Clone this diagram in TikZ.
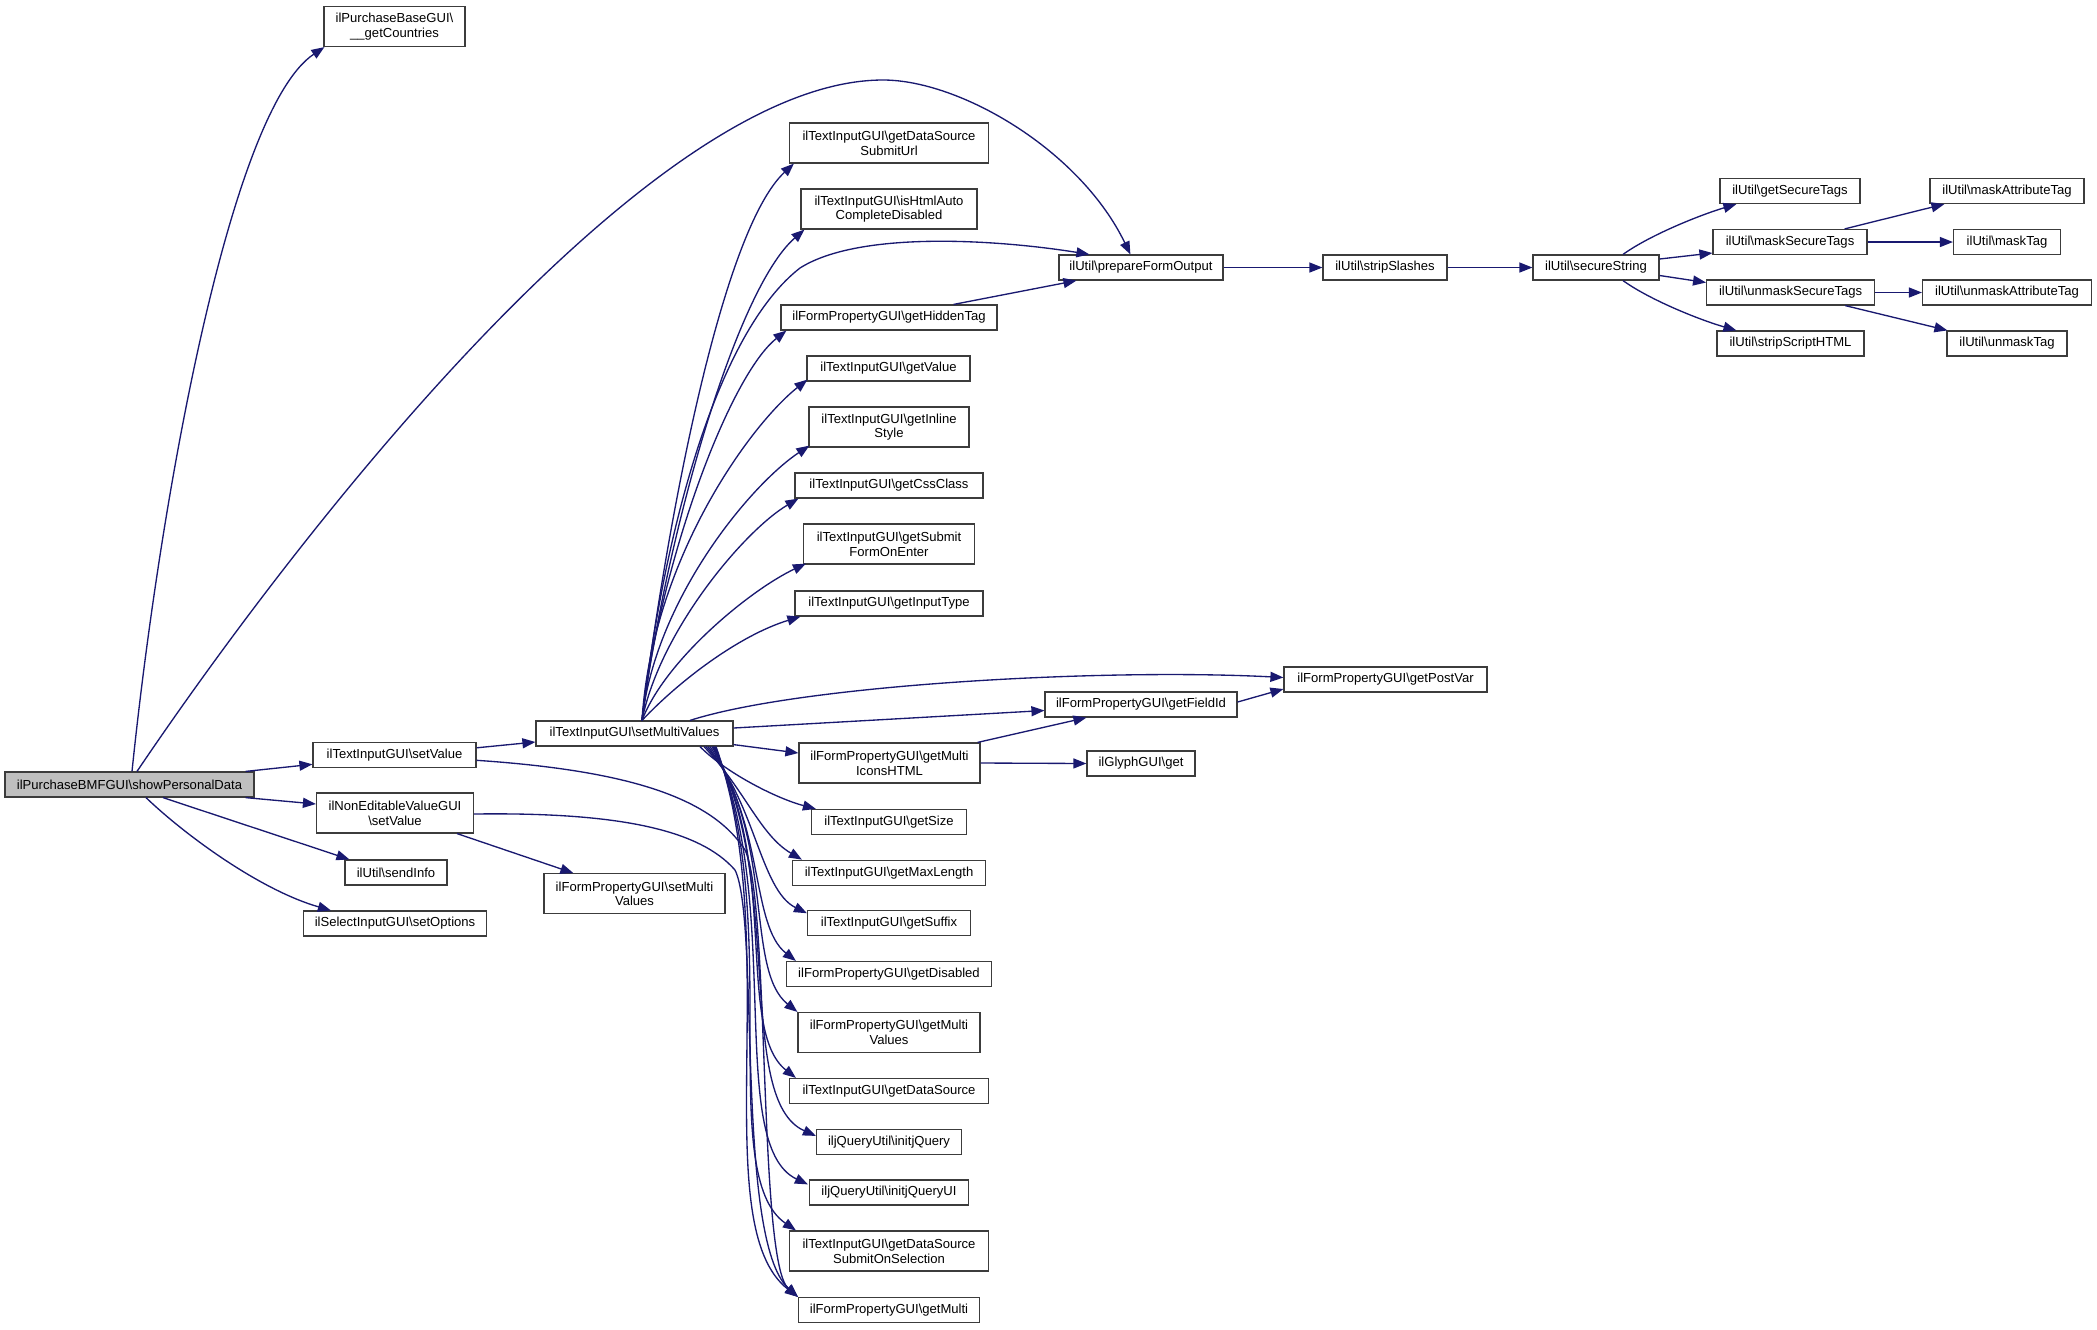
\documentclass[tikz,border=0pt]{standalone}
\usepackage{fontspec}
\setmainfont{Liberation Sans}
\usetikzlibrary{arrows.meta,calc}
\definecolor{edgec}{RGB}{25,25,112}
\definecolor{rootfill}{RGB}{191,191,191}
\definecolor{boxline}{RGB}{60,60,60}
\newcommand{\bs}{\textbackslash}
\begin{document}
\begin{tikzpicture}[x=0.75pt,y=-0.75pt,
  box/.style={draw=boxline, line width=0.9pt, fill=white, inner sep=0pt,
    minimum height=18.75pt, font=\fontsize{9.8pt}{11pt}\selectfont, align=center},
  dbl/.style={minimum height=30pt},
  bw/.style={minimum width=#1*0.75pt},
  edge/.style={draw=edgec, line width=1pt, -{Triangle[length=9.75pt,width=7.5pt]}}]
\fill[white] (0,0) rectangle (2097,1329);
\useasboundingbox (0,0) rectangle (2097,1329);

% nodes
\node[box, bw=249, fill=rootfill] (root) at (129.5,784.5) {ilPurchaseBMFGUI\bs showPersonalData};
\node[box, dbl, bw=141] (gc) at (394.5,26.5) {ilPurchaseBaseGUI\bs\\\_\_getCountries};
\node[box, bw=163] (tsv) at (394.5,755.3) {ilTextInputGUI\bs setValue};
\node[box, dbl, bw=157] (ne) at (395,813) {ilNonEditableValueGUI\\\bs setValue};
\node[box, bw=102] (si) at (396,872.5) {ilUtil\bs sendInfo};
\node[box, bw=183] (so) at (395,923.5) {ilSelectInputGUI\bs setOptions};
\node[box, bw=197] (smv) at (634.5,733.5) {ilTextInputGUI\bs setMultiValues};
\node[box, dbl, bw=181] (fpsmv) at (634.5,893.7) {ilFormPropertyGUI\bs setMulti\\Values};

\node[box, dbl, bw=199] (sdsu) at (889,143) {ilTextInputGUI\bs getDataSource\\SubmitUrl};
\node[box, dbl, bw=176] (hac) at (889,209) {ilTextInputGUI\bs isHtmlAuto\\CompleteDisabled};
\node[box, bw=216] (ght) at (889,317.5) {ilFormPropertyGUI\bs getHiddenTag};
\node[box, bw=163] (gv) at (888.5,368.5) {ilTextInputGUI\bs getValue};
\node[box, dbl, bw=160] (gis) at (889,427) {ilTextInputGUI\bs getInline\\Style};
\node[box, bw=188] (gcc) at (889,485.5) {ilTextInputGUI\bs getCssClass};
\node[box, dbl, bw=171] (gsub) at (889,544) {ilTextInputGUI\bs getSubmit\\FormOnEnter};
\node[box, bw=188] (git) at (889,603.5) {ilTextInputGUI\bs getInputType};
\node[box, dbl, bw=181] (gmih) at (889.5,763) {ilFormPropertyGUI\bs getMulti\\IconsHTML};
\node[box, bw=155] (gsz) at (889,822) {ilTextInputGUI\bs getSize};
\node[box, bw=193] (gml) at (889,872.7) {ilTextInputGUI\bs getMaxLength};
\node[box, bw=163] (gsf) at (889,923.3) {ilTextInputGUI\bs getSuffix};
\node[box, bw=205] (gdis) at (889,974) {ilFormPropertyGUI\bs getDisabled};
\node[box, dbl, bw=182] (gmv) at (889,1032.5) {ilFormPropertyGUI\bs getMulti\\Values};
\node[box, bw=199] (gds) at (889,1091) {ilTextInputGUI\bs getDataSource};
\node[box, bw=145] (ijq) at (889,1142) {iljQueryUtil\bs initjQuery};
\node[box, bw=159] (ijqui) at (889,1192.5) {iljQueryUtil\bs initjQueryUI};
\node[box, dbl, bw=199] (sos) at (889,1251) {ilTextInputGUI\bs getDataSource\\SubmitOnSelection};
\node[box, bw=181] (gm) at (889,1310) {ilFormPropertyGUI\bs getMulti};

\node[box, bw=164] (pfo) at (1141,267.5) {ilUtil\bs prepareFormOutput};
\node[box, bw=192] (gfid) at (1141,704.5) {ilFormPropertyGUI\bs getFieldId};
\node[box, bw=108] (glyph) at (1141,763.5) {ilGlyphGUI\bs get};
\node[box, bw=124] (ss) at (1385,267.5) {ilUtil\bs stripSlashes};
\node[box, bw=203] (gpv) at (1385.5,679.5) {ilFormPropertyGUI\bs getPostVar};
\node[box, bw=126] (sec) at (1596,267.5) {ilUtil\bs secureString};
\node[box, bw=140] (gst) at (1790,191) {ilUtil\bs getSecureTags};
\node[box, bw=154] (mst) at (1790,242) {ilUtil\bs maskSecureTags};
\node[box, bw=168] (umst) at (1790.6,292.5) {ilUtil\bs unmaskSecureTags};
\node[box, bw=147] (ssh) at (1790.5,343.5) {ilUtil\bs stripScriptHTML};
\node[box, bw=154] (mat) at (2007,191) {ilUtil\bs maskAttributeTag};
\node[box, bw=107] (mt) at (2007,242) {ilUtil\bs maskTag};
\node[box, bw=169] (umat) at (2007,292.5) {ilUtil\bs unmaskAttributeTag};
\node[box, bw=120] (umt) at (2007,343.5) {ilUtil\bs unmaskTag};

% edges from root
\draw[edge] ($(root.north)+(2.5,0)$) .. controls (160,500) and (230,110) .. ($(gc.south west)+(1,0)$);
\draw[edge] ($(root.north)+(7.5,0)$) .. controls (300,530) and (650,80) .. (883,80)
  .. controls (960,80) and (1080,150) .. ($(pfo.north west)+(72,0)$);
\draw[edge] ($(root.north east)+(-9,0)$) -- ($(tsv.west)+(0,9)$);
\draw[edge] ($(root.south east)+(-9,0)$) -- ($(ne.west)+(0,-9)$);
\draw[edge] ($(root.south)+(33.5,0)$) -- ($(si.north west)+(5,0)$);
\draw[edge] ($(root.south)+(16.5,0)$) .. controls (185,835) and (260,890) .. ($(so.north west)+(28,0)$);

% column 1 edges
\draw[edge] ($(tsv.east)+(0,-7.5)$) -- ($(smv.west)+(0,8.5)$);
\draw[edge] ($(tsv.east)+(0,5)$) .. controls (620,770) and (710,795) .. (745,850)
  .. controls (770,900) and (758,1262) .. (gm.north west);
\draw[edge] ($(ne.east)+(0,1)$) .. controls (620,812) and (700,830) .. (735,870)
  .. controls (760,920) and (735,1240) .. (gm.north west);
\draw[edge] ($(ne.south east)+(-17,0)$) -- ($(fpsmv.north west)+(30,0)$);

% setMultiValues upward edges
\draw[edge] ($(smv.north)+(7.5,0)$) .. controls (667,520) and (722,230) .. ($(sdsu.south west)+(5,0)$);
\draw[edge] ($(smv.north)+(7.5,0)$) .. controls (665,540) and (735,290) .. ($(hac.south west)+(4,0)$);
\draw[edge] ($(smv.north)+(7.5,0)$) .. controls (665,520) and (720,330) .. (800,268)
  .. controls (860,230) and (1000,240) .. ($(pfo.north west)+(31,0)$);
\draw[edge] ($(smv.north)+(7.5,0)$) .. controls (660,560) and (730,375) .. ($(ght.south west)+(6,0)$);
\draw[edge] ($(smv.north)+(7.5,0)$) .. controls (652,560) and (750,425) .. ($(gv.south west)+(1,-2)$);
\draw[edge] ($(smv.north)+(7.5,0)$) .. controls (655,600) and (750,485) .. ($(gis.south west)+(1,-2)$);
\draw[edge] ($(smv.north)+(7.5,0)$) .. controls (660,630) and (745,530) .. ($(gcc.south west)+(4,0)$);
\draw[edge] ($(smv.north)+(7.5,0)$) .. controls (665,660) and (750,590) .. ($(gsub.south west)+(3,-1)$);
\draw[edge] ($(smv.north)+(7.5,0)$) .. controls (680,680) and (740,635) .. ($(git.south west)+(6,0)$);

% setMultiValues right edges
\draw[edge] ($(smv.north)+(55.5,0)$) .. controls (800,685) and (1100,668) .. ($(gpv.west)+(0,-2)$);
\draw[edge] ($(smv.east)+(0,-5.5)$) -- ($(gfid.west)+(0,6)$);
\draw[edge] ($(smv.south east)+(0,-2)$) -- ($(gmih.west)+(0,-10)$);

% setMultiValues downward edges
\draw[edge] ($(smv.south)+(65.5,0)$) .. controls (725,772) and (775,798) .. ($(gsz.north west)+(5,0)$);
\draw[edge] ($(smv.south)+(69.5,0)$) .. controls (745,790) and (760,835) .. ($(gml.north west)+(10,0)$);
\draw[edge] ($(smv.south)+(71.5,0)$) .. controls (755,800) and (760,890) .. ($(gsf.north west)+(0,3)$);
\draw[edge] ($(smv.south)+(73.5,0)$) .. controls (765,820) and (750,925) .. ($(gdis.north west)+(10,0)$);
\draw[edge] ($(smv.south)+(75.5,0)$) .. controls (775,840) and (745,970) .. (gmv.north west);
\draw[edge] ($(smv.south)+(77.5,0)$) .. controls (780,860) and (735,1030) .. ($(gds.north west)+(7,0)$);
\draw[edge] ($(smv.south)+(78.5,0)$) .. controls (785,880) and (735,1100) .. ($(ijq.north west)+(0,7)$);
\draw[edge] ($(smv.south)+(79.5,0)$) .. controls (785,900) and (725,1145) .. ($(ijqui.north west)+(-1,5)$);
\draw[edge] ($(smv.south)+(80.5,0)$) .. controls (785,920) and (715,1175) .. ($(sos.north west)+(7,0)$);
\draw[edge] ($(smv.south)+(81.5,0)$) .. controls (785,940) and (705,1225) .. (gm.north west);

% other edges
\draw[edge] ($(ght.north east)+(-44,0)$) -- ($(pfo.south west)+(18,0)$);
\draw[edge] ($(gmih.north east)+(-3,0)$) -- ($(gfid.south west)+(42,0)$);
\draw[edge] (gmih.east) -- (glyph.west);
\draw[edge] ($(gfid.east)+(0,-2.5)$) -- ($(gpv.west)+(0,9.5)$);
\draw[edge] (pfo.east) -- (ss.west);
\draw[edge] (ss.east) -- (sec.west);
\draw[edge] ($(sec.north)+(27,0)$) .. controls (1650,235) and (1700,215) .. ($(gst.south west)+(17,0)$);
\draw[edge] ($(sec.east)+(0,-8.5)$) -- ($(mst.west)+(0,11)$);
\draw[edge] ($(sec.east)+(0,8)$) -- ($(umst.west)+(0,-10)$);
\draw[edge] ($(sec.south)+(27,0)$) .. controls (1650,300) and (1700,320) .. ($(ssh.north west)+(20,0)$);
\draw[edge] ($(mst.north east)+(-23,0)$) -- ($(mat.south west)+(15,0)$);
\draw[edge] (mst.east) -- (mt.west);
\draw[edge] (umst.east) -- (umat.west);
\draw[edge] ($(umst.south east)+(-30,0)$) -- ($(umt.north west)+(1,0)$);
\end{tikzpicture}
\end{document}
